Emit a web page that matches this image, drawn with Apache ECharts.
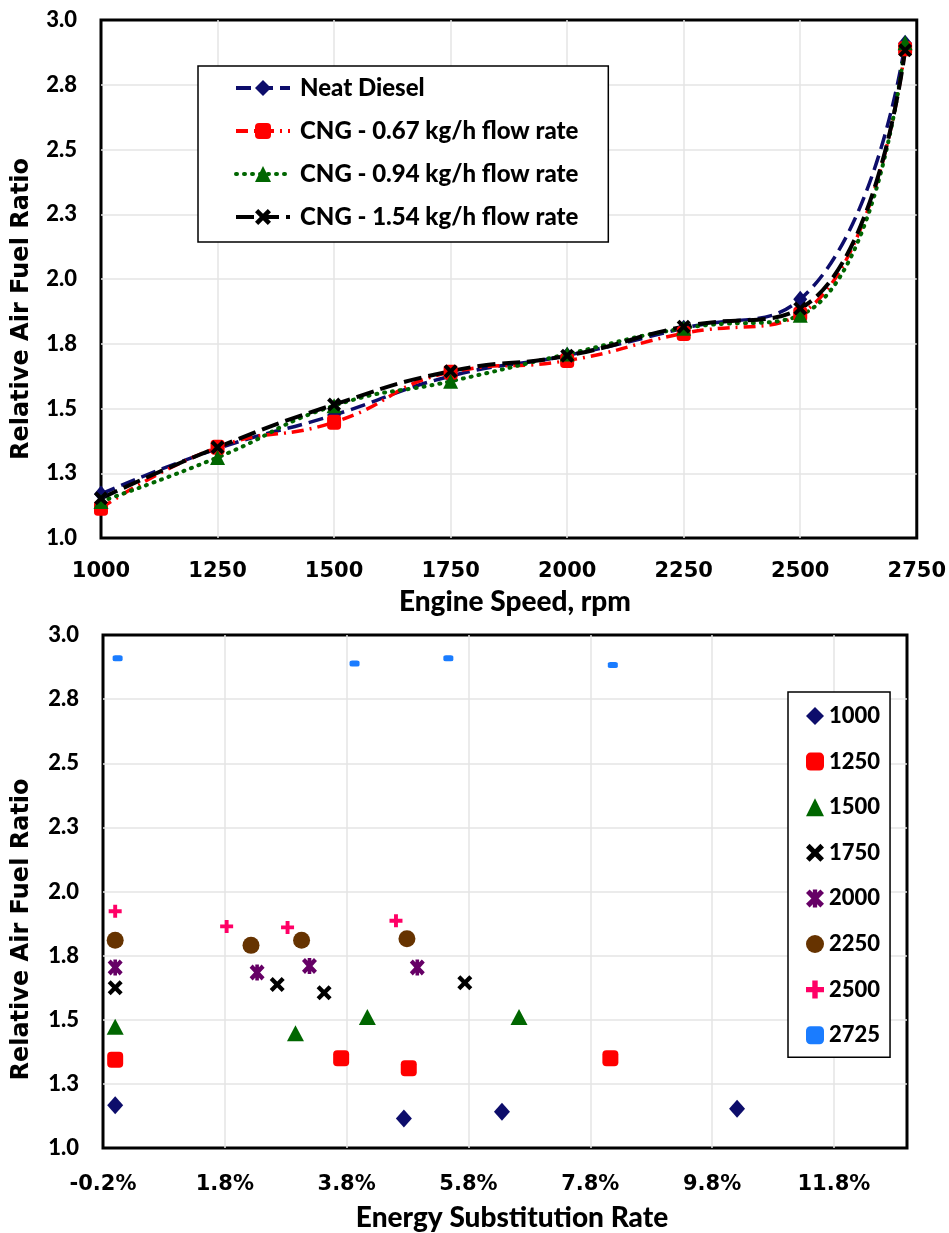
<!DOCTYPE html>
<html><head><meta charset="utf-8">
<script src="https://cdn.jsdelivr.net/npm/echarts@6/dist/echarts.min.js"></script>
<style>html,body{margin:0;padding:0;background:#fff}#c{width:949px;height:1233px}</style>
</head><body><div id="c"></div>
<script>
// ---------- Top chart data ----------
const engineSpeed = [1000, 1250, 1500, 1750, 2000, 2250, 2500, 2725];
const neatDiesel  = [1.170, 1.345, 1.475, 1.625, 1.705, 1.810, 1.922, 2.910];
const cng067      = [1.115, 1.350, 1.447, 1.640, 1.685, 1.790, 1.864, 2.889];
const cng094      = [1.141, 1.311, 1.511, 1.605, 1.710, 1.810, 1.860, 2.912];
const cng154      = [1.153, 1.350, 1.515, 1.644, 1.704, 1.816, 1.886, 2.883];
const topNames = ['Neat Diesel', 'CNG - 0.67 kg/h flow rate', 'CNG - 0.94 kg/h flow rate', 'CNG - 1.54 kg/h flow rate'];
const speedTickLabels = ['1000', '1250', '1500', '1750', '2000', '2250', '2500', '2750'];
const lambdaTickLabels = ['1.0', '1.3', '1.5', '1.8', '2.0', '2.3', '2.5', '2.8', '3.0'];

// ---------- Bottom chart data: [energy substitution rate %, relative AFR] ----------
const esrTickLabels = ['-0.2%', '1.8%', '3.8%', '5.8%', '7.8%', '9.8%', '11.8%'];
const speedGroups = ['1000', '1250', '1500', '1750', '2000', '2250', '2500', '2725'];
const pts1000 = [[0.00, 1.167], [4.74, 1.115], [6.35, 1.141], [10.21, 1.153]];
const pts1250 = [[0.00, 1.344], [3.71, 1.350], [4.82, 1.311], [8.13, 1.350]];
const pts1500 = [[0.00, 1.473], [2.96, 1.447], [4.14, 1.511], [6.63, 1.511]];
const pts1750 = [[0.00, 1.625], [2.66, 1.637], [3.43, 1.605], [5.74, 1.644]];
const pts2000 = [[0.00, 1.704], [2.33, 1.684], [3.19, 1.710], [4.96, 1.704]];
const pts2250 = [[0.00, 1.810], [2.23, 1.790], [3.06, 1.810], [4.79, 1.816]];
const pts2500 = [[0.00, 1.923], [1.83, 1.864], [2.83, 1.860], [4.61, 1.886]];
const pts2725 = [[0.04, 2.909], [3.93, 2.889], [5.47, 2.909], [8.17, 2.883]];

const X_PATH = 'path://M2,0 L5,3 L8,0 L10,2 L7,5 L10,8 L8,10 L5,7 L2,10 L0,8 L3,5 L0,2 Z';
const STAR_PATH = 'path://M2,0 L5,3 L8,0 L10,2 L7,5 L10,8 L8,10 L5,7 L2,10 L0,8 L3,5 L0,2 Z M3.8,0 L6.2,0 L6.2,10 L3.8,10 Z';
const PLUS_PATH = 'path://M3.5,0 L6.5,0 L6.5,3.5 L10,3.5 L10,6.5 L6.5,6.5 L6.5,10 L3.5,10 L3.5,6.5 L0,6.5 L0,3.5 L3.5,3.5 Z';

const chart = echarts.init(document.getElementById('c'), null, {renderer: 'canvas'});

const gridLine = {show: true, showMinLine: false, showMaxLine: false, lineStyle: {color: '#E4E4E4', width: 1.5}};
const tickFont = {fontFamily: 'Lato', fontWeight: 900, fontSize: 22, color: '#000'};
const xTickFont = {fontFamily: 'DejaVu Sans', fontWeight: 'bold', fontSize: 21, color: '#000'};
const yTitleFont = {fontFamily: 'DejaVu Sans', fontWeight: 'bold', fontSize: 24, color: '#000'};
const xTitleFont = {fontFamily: 'Lato', fontWeight: 900, fontSize: 28, color: '#000'};

function pairs(xs, ys) { return xs.map((x, i) => [x, ys[i]]); }
function lambdaLabel(v) { const s = lambdaTickLabels[Math.round((v - 1) / 0.25)]; return s === undefined ? '' : s; }

const topStyles = [
  {data: neatDiesel, color: '#0D0D6B', symbol: 'diamond', symbolSize: [14, 17], dash: [15, 7], width: 3.5},
  {data: cng067, color: '#FF0000', symbol: 'roundRect', symbolSize: [14, 15], dash: [12, 6, 2, 6], width: 3.5},
  {data: cng094, color: '#006600', symbol: 'triangle', symbolSize: [15, 15], dash: [1, 7], width: 4, cap: 'round'},
  {data: cng154, color: '#000000', symbol: X_PATH, symbolSize: [14, 14], dash: [18, 7], width: 4}
];

const series = [];
topStyles.forEach((s, i) => {
  series.push({
    name: topNames[i], type: 'line', xAxisIndex: 0, yAxisIndex: 0,
    data: pairs(engineSpeed, s.data), smooth: 0.5,
    symbol: s.symbol, symbolSize: s.symbolSize, showAllSymbol: true,
    itemStyle: {color: s.color},
    lineStyle: {color: s.color, width: s.width, type: s.dash, cap: s.cap || 'butt'},
    emphasis: {disabled: true}, animation: false
  });
});

const bottomStyles = [
  {data: pts1000, color: '#0D0D6B', symbol: 'diamond', size: [16, 18]},
  {data: pts1250, color: '#FF0000', symbol: 'roundRect', size: [16, 16]},
  {data: pts1500, color: '#006600', symbol: 'triangle', size: [17, 16]},
  {data: pts1750, color: '#000000', symbol: X_PATH, size: [15, 15]},
  {data: pts2000, color: '#660066', symbol: STAR_PATH, size: [15, 16]},
  {data: pts2250, color: '#663300', symbol: 'circle', size: 17},
  {data: pts2500, color: '#FF0066', symbol: PLUS_PATH, size: [13, 13]},
  {data: pts2725, color: '#1A7CFF', symbol: 'roundRect', size: [10, 6]}
];
bottomStyles.forEach((s, i) => {
  series.push({
    name: speedGroups[i], type: 'scatter', xAxisIndex: 1, yAxisIndex: 1,
    data: s.data, symbol: s.symbol, symbolSize: s.size,
    itemStyle: {color: s.color, opacity: 1}, emphasis: {disabled: true}, animation: false
  });
});

chart.setOption({
  animation: false,
  backgroundColor: '#fff',
  grid: [
    {left: 101, top: 20, width: 816, height: 518, show: true, borderColor: '#000', borderWidth: 3, backgroundColor: 'transparent'},
    {left: 103, top: 635, width: 804, height: 514, show: true, borderColor: '#000', borderWidth: 3, backgroundColor: 'transparent'}
  ],
  xAxis: [
    {type: 'value', gridIndex: 0, min: 1000, max: 2750, interval: 250,
     axisLine: {show: false}, axisTick: {show: false}, splitLine: gridLine,
     axisLabel: {...xTickFont, margin: 23, formatter: v => speedTickLabels[Math.round((v - 1000) / 250)] || ''},
     name: 'Engine Speed, rpm', nameLocation: 'middle', nameGap: 50,
     nameTextStyle: {...xTitleFont, padding: [0, 0, 0, 12]}},
    {type: 'value', gridIndex: 1, min: -0.2, max: 13, interval: 2,
     axisLine: {show: false}, axisTick: {show: false}, splitLine: gridLine,
     axisLabel: {...xTickFont, margin: 26, showMaxLabel: false,
       formatter: v => esrTickLabels[Math.round((v + 0.2) / 2)] || ''},
     name: 'Energy Substitution Rate', nameLocation: 'middle', nameGap: 56,
     nameTextStyle: {...xTitleFont, padding: [0, 0, 0, 14]}}
  ],
  yAxis: [
    {type: 'value', gridIndex: 0, min: 1, max: 3, interval: 0.25,
     axisLine: {show: false}, axisTick: {show: false}, splitLine: gridLine,
     axisLabel: {...tickFont, margin: 24, formatter: lambdaLabel},
     name: 'Relative Air Fuel Ratio', nameLocation: 'middle', nameGap: 67,
     nameTextStyle: {...yTitleFont, padding: [0, 60, 0, 0]}},
    {type: 'value', gridIndex: 1, min: 1, max: 3, interval: 0.25,
     axisLine: {show: false}, axisTick: {show: false}, splitLine: gridLine,
     axisLabel: {...tickFont, margin: 24, formatter: lambdaLabel},
     name: 'Relative Air Fuel Ratio', nameLocation: 'middle', nameGap: 69,
     nameTextStyle: {...yTitleFont, padding: [0, 76, 0, 0]}}
  ],
  legend: [
    {data: topNames, left: 198, top: 66, orient: 'vertical',
     padding: [10, 30, 13, 36], itemGap: 19, itemWidth: 54, itemHeight: 20,
     borderColor: '#000', borderWidth: 1.5, backgroundColor: '#fff',
     selectedMode: false, lineStyle: {width: 4},
     textStyle: {fontFamily: 'Lato', fontWeight: 900, fontSize: 24, color: '#000', lineHeight: 24, padding: [0, 0, 0, 5]}},
    {data: speedGroups, left: 788, top: 692, orient: 'vertical',
     padding: [12, 10, 10, 18], itemGap: 21.6, itemWidth: 18, itemHeight: 18,
     borderColor: '#000', borderWidth: 1.5, backgroundColor: '#fff',
     selectedMode: false,
     textStyle: {fontFamily: 'Lato', fontWeight: 900, fontSize: 22, color: '#000', lineHeight: 24}}
  ],
  series: series
});
</script></body></html>
